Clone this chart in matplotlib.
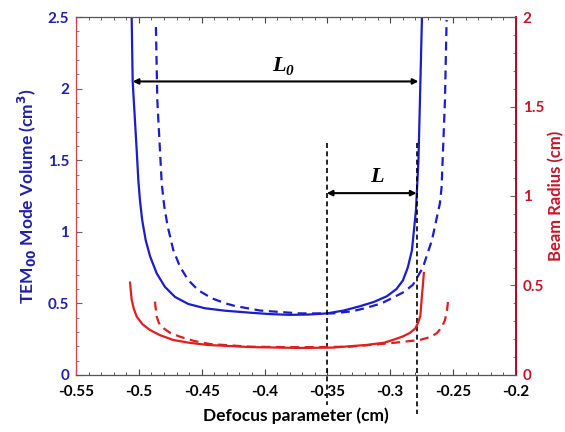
import matplotlib.pyplot as plt
from matplotlib.ticker import MultipleLocator

# blue solid: mode volume (cm^3)
vol_x = [-0.5057, -0.5049, -0.5017, -0.5004, -0.4991, -0.4973, -0.4945, -0.4911,
         -0.4858, -0.4792, -0.4712, -0.4607, -0.4474, -0.4315, -0.4116, -0.3950,
         -0.3798, -0.3650, -0.3503, -0.3370, -0.3241, -0.3130, -0.3026, -0.2950,
         -0.2899, -0.2860, -0.2827, -0.2795, -0.2775, -0.2763, -0.2747]
vol_y = [2.5, 2.05, 1.57, 1.36, 1.22, 1.08, 0.94, 0.83, 0.71, 0.615, 0.545, 0.496,
         0.466, 0.449, 0.435, 0.425, 0.42, 0.422, 0.43, 0.45, 0.48, 0.51, 0.55,
         0.60, 0.66, 0.75, 0.87, 1.15, 1.50, 1.92, 2.5]

# blue dashed
vol2_x = [-0.4864, -0.4853, -0.4818, -0.4798, -0.4771, -0.4726, -0.4673, -0.4607,
          -0.4527, -0.4420, -0.4315, -0.4235, -0.4036, -0.3718, -0.3455, -0.3300,
          -0.3185, -0.3070, -0.2978, -0.2890, -0.2819, -0.2740, -0.2668, -0.2604,
          -0.2591, -0.2564, -0.2551]
vol2_y = [2.43, 1.92, 1.34, 1.18, 1.04, 0.873, 0.757, 0.663, 0.592, 0.536, 0.501,
          0.482, 0.45, 0.43, 0.43, 0.445, 0.47, 0.50, 0.54, 0.58, 0.63, 0.75, 0.94,
          1.20, 1.31, 1.92, 2.48]

# red solid: beam radius (cm)
rad_x = [-0.5070, -0.5057, -0.5040, -0.5017, -0.4970, -0.4911, -0.4830, -0.4728,
         -0.4600, -0.4458, -0.4116, -0.3718, -0.3455, -0.3185, -0.3050, -0.2978,
         -0.2900, -0.2843, -0.2800, -0.2779, -0.2760, -0.2750, -0.2740, -0.2732]
rad_y = [0.516, 0.42, 0.37, 0.326, 0.283, 0.251, 0.222, 0.196, 0.180, 0.168,
         0.156, 0.151, 0.153, 0.168, 0.180, 0.196, 0.215, 0.235, 0.260, 0.29,
         0.33, 0.42, 0.50, 0.57]

# red dashed
rad2_x = [-0.4872, -0.4858, -0.4840, -0.4808, -0.4750, -0.4673, -0.4560, -0.4434,
          -0.4116, -0.3718, -0.3320, -0.2978, -0.2763, -0.2680, -0.2630, -0.2590,
          -0.2564, -0.2548, -0.2538]
rad2_y = [0.41, 0.326, 0.29, 0.263, 0.235, 0.214, 0.190, 0.173, 0.158, 0.155,
          0.158, 0.179, 0.196, 0.212, 0.233, 0.265, 0.307, 0.36, 0.42]

blue = '#1c1cc8'
red = '#e01e1e'
blue_txt = '#2020a8'
red_txt = '#c8142a'
font = 'Lato'

fig = plt.figure(figsize=(5.65, 4.32), dpi=100)
ax = fig.add_axes([0.1345, 0.132, 0.7785, 0.8286])
ax2 = ax.twinx()

ax.plot(vol_x, vol_y, color=blue, lw=1.6)
ax.plot(vol2_x, vol2_y, color=blue, lw=1.6, ls=(0, (4, 2.5)))
ax2.plot(rad_x, rad_y, color=red, lw=1.6)
ax2.plot(rad2_x, rad2_y, color=red, lw=1.6, ls=(0, (4, 2.5)))

ax.set_xlim(-0.55, -0.2)
ax.set_ylim(0, 2.5)
ax2.set_ylim(0, 2)

ax.xaxis.set_major_locator(MultipleLocator(0.05))
ax.xaxis.set_minor_locator(MultipleLocator(0.01))
ax.yaxis.set_major_locator(MultipleLocator(0.5))
ax.yaxis.set_minor_locator(MultipleLocator(0.1))
ax2.yaxis.set_major_locator(MultipleLocator(0.5))
ax2.yaxis.set_minor_locator(MultipleLocator(0.1))

ax.tick_params(axis='x', which='both', direction='in', top=True, labelsize=11,
               color='#444444', pad=7)
ax.tick_params(axis='x', which='major', length=4)
ax.tick_params(axis='x', which='minor', length=2)
ax.tick_params(axis='y', which='both', direction='in', labelsize=11,
               labelcolor=blue_txt, color='#666666', pad=5)
ax.tick_params(axis='y', which='major', length=4)
ax.tick_params(axis='y', which='minor', length=2)
ax2.tick_params(axis='y', which='both', direction='in', labelsize=11,
                labelcolor=red_txt, color='#666666', pad=5)
ax2.tick_params(axis='y', which='major', length=4)
ax2.tick_params(axis='y', which='minor', length=2)

ax.set_xticks([-0.55, -0.5, -0.45, -0.4, -0.35, -0.3, -0.25, -0.2])
ax.set_xticklabels(['-0.55', '-0.5', '-0.45', '-0.4', '-0.35', '-0.3', '-0.25', '-0.2'])
ax.set_yticks([0, 0.5, 1, 1.5, 2, 2.5])
ax.set_yticklabels(['0', '0.5', '1', '1.5', '2', '2.5'])
ax2.set_yticks([0, 0.5, 1, 1.5, 2])
ax2.set_yticklabels(['0', '0.5', '1', '1.5', '2'])

for lab in ax.get_xticklabels() + ax.get_yticklabels() + ax2.get_yticklabels():
    lab.set_fontweight('bold')
    lab.set_family(font)

for s in ['top', 'bottom']:
    ax2.spines[s].set_color('#555555')
ax2.spines['left'].set_color('#d04050')
ax2.spines['left'].set_linewidth(0.8)
ax2.spines['right'].set_color('#a8102a')
ax2.spines['right'].set_linewidth(1.4)

ax.set_xlabel('Defocus parameter (cm)', fontsize=12.5, fontweight='bold',
              family=font, labelpad=6)
ax.set_ylabel('TEM$_{\\mathbf{00}}$ Mode Volume (cm$^{\\mathbf{3}}$)', fontsize=12.5,
              fontweight='bold', family=font, color=blue_txt, labelpad=6)
ax2.set_ylabel('Beam Radius (cm)', fontsize=12, fontweight='bold', family=font,
               color=red_txt, labelpad=3)

# annotations
arr = dict(arrowstyle='<|-|>', color='black', lw=1.5, mutation_scale=8,
           shrinkA=0, shrinkB=0)
ax.annotate('', xy=(-0.5049, 2.05), xytext=(-0.2775, 2.05), arrowprops=arr)
ax.annotate('', xy=(-0.3505, 1.27), xytext=(-0.279, 1.27), arrowprops=arr)

tfont = dict(family='Liberation Serif', style='italic', fontweight='bold')
ax.text(-0.3885, 2.16, 'L', fontsize=16, ha='center', va='center', **tfont)
ax.text(-0.3805, 2.12, '0', fontsize=11, ha='center', va='center', **tfont)
ax.text(-0.3105, 1.38, 'L', fontsize=16, ha='center', va='center', **tfont)

ax.plot([-0.3505, -0.3505], [1.62, -0.21], color='black', lw=1.2,
        ls=(0, (3, 2)), clip_on=False)
ax.plot([-0.279, -0.279], [1.62, -0.27], color='black', lw=1.2,
        ls=(0, (3, 2)), clip_on=False)

fig.savefig('out.png', dpi=100)
